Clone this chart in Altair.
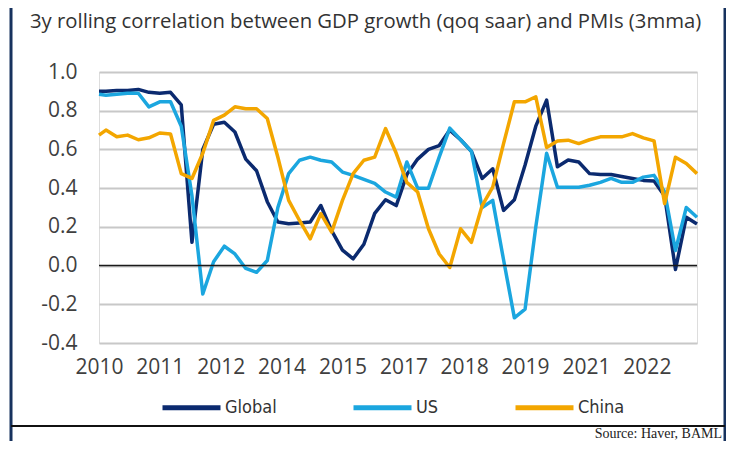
import altair as alt
import pandas as pd

# month offsets from Jan 2010 (quarterly observations)
months = [0, 2, 5, 8, 11, 14, 17, 20, 23, 26, 29, 32, 35, 38, 41, 44, 47, 50, 53, 56,
          59, 62, 65, 68, 71, 74, 77, 80, 83, 86, 89, 92, 95, 98, 101, 104, 107, 110,
          113, 116, 119, 122, 125, 128, 131, 134, 137, 140, 143, 146, 149, 152, 155,
          158, 161, 164, 167]

global_vals = [0.90, 0.90, 0.905, 0.905, 0.91, 0.895, 0.89, 0.895, 0.83, 0.12,
               0.60, 0.73, 0.74, 0.69, 0.55, 0.49, 0.33, 0.225, 0.216, 0.22,
               0.225, 0.31, 0.18, 0.08, 0.035, 0.11, 0.27, 0.34, 0.31, 0.47,
               0.55, 0.60, 0.62, 0.70, 0.65, 0.59, 0.45, 0.50, 0.285, 0.34,
               0.52, 0.72, 0.855, 0.51, 0.545, 0.535, 0.475, 0.47, 0.47, 0.46,
               0.45, 0.44, 0.437, 0.36, -0.02, 0.25, 0.215]

us_vals = [0.885, 0.88, 0.885, 0.89, 0.89, 0.82, 0.846, 0.846, 0.72, 0.36,
           -0.147, 0.02, 0.10, 0.06, -0.015, -0.035, 0.026, 0.30, 0.475, 0.544,
           0.56, 0.544, 0.535, 0.483, 0.466, 0.445, 0.425, 0.38, 0.354, 0.535,
           0.40, 0.40, 0.56, 0.71, 0.65, 0.59, 0.30, 0.337, 0.03, -0.27,
           -0.225, 0.20, 0.58, 0.405, 0.405, 0.405, 0.415, 0.43, 0.45, 0.43,
           0.43, 0.457, 0.466, 0.38, 0.078, 0.30, 0.25]

china_vals = [0.674, 0.70, 0.665, 0.674, 0.65, 0.66, 0.685, 0.68, 0.475, 0.45,
              0.58, 0.75, 0.777, 0.82, 0.81, 0.81, 0.76, 0.56, 0.337, 0.233,
              0.138, 0.268, 0.173, 0.337, 0.475, 0.544, 0.56, 0.708, 0.58, 0.43,
              0.38, 0.19, 0.06, -0.01, 0.19, 0.12, 0.31, 0.405, 0.63, 0.846,
              0.846, 0.872, 0.61, 0.643, 0.648, 0.63, 0.65, 0.665, 0.665, 0.665,
              0.682, 0.66, 0.644, 0.32, 0.56, 0.527, 0.475]

series_names = ["Global", "US", "China"]
series_colors = ["#0b2a6f", "#1ba6df", "#f3a600"]
y_ticks = [-0.4, -0.2, 0.0, 0.2, 0.4, 0.6, 0.8, 1.0]
x_label_months = [0, 17, 34, 51, 68, 85, 102, 119, 136, 153]

title_text = "3y rolling correlation between GDP growth (qoq saar) and PMIs (3mma)"
source_text = "Source: Haver, BAML"


def mdate(m):
    return f"{2010 + m // 12}-{m % 12 + 1:02d}-01T00:00:00"


def mdt(m):
    return alt.DateTime(year=2010 + m // 12, month=m % 12 + 1, date=1)


rows = []
for name, vals in zip(series_names, [global_vals, us_vals, china_vals]):
    for m, v in zip(months, vals):
        rows.append({"date": mdate(m), "series": name, "value": v})
df = pd.DataFrame(rows)

label_color = "#3f3f3f"

x_enc = alt.X(
    "date:T",
    scale=alt.Scale(domain=[mdt(0), mdt(167)]),
    axis=alt.Axis(values=[mdt(m) for m in x_label_months], format="%Y",
                  labelFlush=False, labelOverlap=False, labelBound=False,
                  grid=False, domain=False, ticks=False, labelFontSize=21,
                  labelFont="Open Sans", labelColor=label_color, labelPadding=13,
                  title=None),
)

y_scale = alt.Scale(domain=[-0.4, 1.0], nice=False, zero=False)
y_axis = alt.Axis(values=y_ticks,
                  labelExpr="(datum.value < 0 ? '-' : '') + format(abs(datum.value), '.1f')",
                  labelOverlap=False, labelFlush=False, labelBound=False,
                  grid=True, gridColor="#c8c8c8", gridWidth=2, domain=False,
                  ticks=False, labelPadding=22, labelFontSize=21,
                  labelFont="Open Sans", labelColor=label_color, title=None)

zero_rule = alt.Chart(pd.DataFrame({"v": [0.0]})).mark_rule(
    color="#1a1a1a", strokeWidth=1.5).encode(
    y=alt.Y("v:Q", scale=y_scale, axis=y_axis))

lines = alt.Chart(df).mark_line(strokeWidth=3.5, strokeJoin="round").encode(
    x=x_enc,
    y=alt.Y("value:Q", scale=y_scale, axis=y_axis),
    color=alt.Color(
        "series:N",
        scale=alt.Scale(domain=series_names, range=series_colors),
        legend=alt.Legend(orient="none", legendX=61, legendY=304,
                          direction="horizontal", title=None, symbolType="stroke",
                          symbolSize=3364, symbolStrokeWidth=5, labelFontSize=18,
                          labelFont="DejaVu Sans Condensed, Roboto Condensed, Roboto",
                          labelColor="#333333", columnPadding=66, labelOffset=2),
    ),
    detail="series:N",
)

frame_left = alt.Chart(pd.DataFrame({"a": [0]})).mark_rule(
    color="#17325e", strokeWidth=3).encode(
    x=alt.value(-88), y=alt.value(-64), y2=alt.value(369))
frame_right = alt.Chart(pd.DataFrame({"a": [0]})).mark_rule(
    color="#17325e", strokeWidth=3).encode(
    x=alt.value(626), y=alt.value(-64), y2=alt.value(369))
frame_bottom = alt.Chart(pd.DataFrame({"a": [0]})).mark_rule(
    color="#111111", strokeWidth=2).encode(
    x=alt.value(-88), x2=alt.value(626), y=alt.value(354))

title = alt.Chart(pd.DataFrame({"a": [0]})).mark_text(
    font="Open Sans", fontSize=20.3, align="left", baseline="alphabetic",
    color="#333333").encode(
    x=alt.value(-69), y=alt.value(-44), text=alt.value(title_text))

source = alt.Chart(pd.DataFrame({"a": [0]})).mark_text(
    font="Liberation Serif", fontSize=14, align="right", baseline="alphabetic",
    color="#222222").encode(
    x=alt.value(623), y=alt.value(366), text=alt.value(source_text))

chart = alt.layer(lines, zero_rule, frame_left, frame_right, frame_bottom,
                  title, source).properties(
    width=598,
    height=271,
    autosize=alt.AutoSizeParams(type="none"),
    padding={"left": 91, "top": 64, "right": 29, "bottom": 98},
).configure_view(stroke=None).configure(background="white")

chart.save("out.html", embed_options={"renderer": "svg", "actions": False})
